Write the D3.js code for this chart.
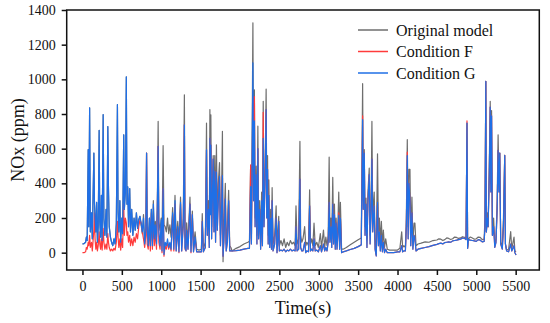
<!DOCTYPE html>
<html lang="en">
<head>
<meta charset="utf-8">
<title>NOx</title>
<script src="https://d3js.org/d3.v7.min.js"></script>
<style>
  body { margin: 0; background: #fff; }
  svg text { font-family: "Liberation Serif", "Times New Roman", serif; fill: #111; }
</style>
</head>
<body>
<svg id="chart" width="550" height="323"></svg>
<script>
// values, one column per key point
var time = [
  0,20,40,50,60,73,80,91,100,115,
  125,145,152,160,170,180,190,200,212,220,
  230,240,250,263,272,285,300,310,322,330,
  340,355,370,385,400,415,430,444,452,462,
  475,485,500,510,524,532,545,557,565,575,
  585,600,610,625,640,655,670,685,700,715,
  730,745,760,775,790,805,814,822,835,850,
  862,875,888,900,912,925,940,950,961,970,
  985,1000,1010,1024,1035,1050,1065,1080,1095,1110,
  1125,1145,1160,1175,1190,1210,1225,1245,1260,1280,
  1294,1302,1315,1323,1340,1365,1378,1395,1410,1430,
  1450,1480,1510,1521,1535,1560,1575,1585,1600,1610,
  1618,1624,1630,1640,1650,1660,1670,1680,1690,1701,
  1712,1725,1740,1752,1765,1777,1785,1795,1814,1825,
  1840,1856,1870,1885,1900,1950,2000,2050,2100,2120,
  2135,2145,2164,2172,2183,2192,2205,2215,2227,2236,
  2250,2262,2275,2285,2295,2305,2320,2332,2340,2350,
  2358,2366,2378,2390,2400,2408,2420,2440,2459,2470,
  2480,2492,2500,2520,2540,2560,2580,2600,2620,2640,
  2660,2680,2700,2711,2725,2745,2761,2770,2785,2800,
  2821,2835,2850,2870,2884,2895,2910,2925,2940,2955,
  2975,2995,3020,3035,3060,3075,3090,3105,3120,3132,
  3142,3155,3165,3178,3188,3199,3210,3220,3232,3242,
  3254,3265,3275,3290,3310,3350,3400,3450,3500,3540,
  3557,3565,3578,3588,3600,3612,3625,3641,3652,3665,
  3675,3685,3704,3715,3730,3746,3758,3770,3782,3795,
  3808,3820,3835,3850,3870,3900,3950,4000,4030,4053,
  4065,4080,4100,4112,4124,4135,4145,4158,4168,4183,
  4195,4210,4221,4235,4260,4300,4350,4400,4450,4500,
  4525,4550,4575,4600,4625,4650,4675,4700,4725,4750,
  4775,4800,4825,4850,4870,4882,4890,4900,4925,4950,
  4975,5000,5025,5050,5075,5100,5110,5121,5128,5140,
  5150,5165,5177,5185,5194,5205,5220,5235,5250,5265,
  5277,5288,5298,5310,5330,5345,5361,5370,5385,5410,
  5437,5450,5479,5490,5505
];

var originalModel = [
  50,52,60,90,70,594,150,835,120,230,
  80,575,300,200,120,290,60,150,705,180,
  90,330,70,796,200,100,250,90,728,380,
  150,90,60,40,80,50,170,854,230,120,
  300,60,200,110,680,250,350,1014,280,380,
  150,370,120,250,100,200,130,230,140,190,
  210,160,110,220,60,140,575,150,60,200,
  80,250,70,300,120,180,90,250,757,180,
  130,200,80,617,160,150,120,200,110,160,
  90,260,80,330,70,180,60,320,70,200,
  911,100,60,172,60,320,40,240,40,120,
  20,15,20,225,20,60,748,150,300,80,
  825,300,795,150,400,560,200,560,150,622,
  200,400,520,100,300,700,-52,150,400,50,
  150,360,40,30,10,25,35,50,60,65,
  500,80,1326,400,940,200,500,100,730,150,
  300,60,350,100,873,200,500,944,300,560,
  100,420,80,250,60,375,50,100,270,30,
  120,210,40,70,40,80,30,60,40,70,
  50,60,40,270,50,80,642,100,60,80,
  150,40,60,40,362,50,80,40,170,40,
  60,30,110,30,130,30,90,40,100,551,
  100,200,80,434,100,280,60,200,70,150,
  350,80,290,20,20,30,45,60,75,85,
  975,300,594,150,315,80,350,488,100,300,
  757,200,350,80,-10,570,100,200,60,180,
  40,130,30,80,20,15,15,15,25,120,
  30,40,30,200,652,150,480,480,100,320,
  60,170,170,40,50,55,62,60,70,73,
  80,78,70,75,85,82,76,80,90,88,
  82,85,92,89,80,748,30,80,90,85,
  78,80,90,88,75,78,200,988,120,230,
  150,500,873,400,820,100,200,50,80,300,
  680,400,575,60,40,200,561,50,15,20,
  121,20,90,10,5
];

var conditionF = [
  0,0,5,30,20,60,40,100,30,60,
  10,130,230,80,20,60,10,40,120,50,
  20,80,15,140,60,20,50,20,110,60,
  30,10,20,10,25,15,60,180,90,30,
  80,15,80,30,280,100,200,170,100,120,
  60,100,40,80,40,90,60,110,80,150,
  190,170,120,80,30,100,575,50,20,150,
  10,230,20,200,40,120,20,220,613,60,
  20,150,0,370,-20,40,20,60,20,50,
  10,220,10,280,10,140,0,280,10,150,
  738,20,10,130,20,280,0,220,5,80,
  5,5,5,180,5,30,594,100,250,30,
  660,220,620,80,330,540,120,470,60,465,
  130,300,440,40,230,445,-20,60,310,10,
  60,300,10,10,10,12,15,20,25,25,
  507,50,900,300,900,150,450,50,600,80,
  250,20,300,40,810,150,450,825,200,480,
  50,330,30,200,20,300,10,50,200,0,
  60,180,10,15,10,20,5,15,10,20,
  10,15,10,150,10,20,425,30,10,10,
  60,0,10,5,270,10,20,10,80,10,
  15,5,40,5,50,10,30,10,60,290,
  60,150,30,280,50,220,20,170,20,100,
  230,20,200,0,5,10,18,25,35,45,
  790,250,575,100,280,30,300,450,50,250,
  540,120,270,20,-19,290,40,120,10,100,
  5,60,0,20,0,0,0,5,5,40,
  5,10,10,150,580,80,400,300,40,230,
  20,100,80,10,20,25,30,35,42,48,
  52,55,50,58,60,62,60,68,70,72,
  75,78,85,83,75,760,25,75,72,70,
  68,65,75,72,62,65,150,988,120,200,
  150,450,840,350,790,100,150,30,60,250,
  590,350,575,50,20,150,561,50,10,5,
  50,10,40,0,-13
];

var conditionG = [
  50,52,60,90,70,594,150,835,120,230,
  80,575,300,200,120,290,60,150,705,180,
  90,330,70,796,200,100,250,90,728,380,
  150,90,60,40,80,50,170,854,230,120,
  300,60,200,110,680,250,350,1014,280,380,
  150,370,120,250,100,200,130,230,140,190,
  210,170,120,200,50,130,575,150,40,200,
  40,250,40,280,80,160,50,250,613,120,
  40,190,10,370,-10,60,40,80,30,60,
  20,230,20,300,10,150,5,290,10,160,
  738,30,10,130,20,280,5,220,5,90,
  5,5,5,180,5,30,594,100,250,30,
  660,220,620,80,330,540,120,470,60,465,
  130,300,440,40,230,445,-20,60,310,10,
  60,300,10,10,10,12,15,20,25,25,
  381,50,1095,300,760,150,450,50,600,80,
  250,20,300,40,660,150,450,825,200,480,
  50,330,30,200,20,300,10,50,200,0,
  60,180,10,15,10,20,5,15,10,20,
  10,15,10,150,10,20,425,30,10,10,
  60,0,10,5,270,10,20,10,80,10,
  15,5,40,5,50,10,30,10,60,290,
  60,150,30,280,50,220,20,170,20,100,
  215,20,200,0,5,10,18,25,35,45,
  767,250,575,100,280,30,300,450,50,250,
  540,120,270,20,-19,290,40,120,10,100,
  5,60,0,20,0,0,0,5,5,40,
  5,10,10,150,560,80,400,300,40,230,
  20,100,80,10,20,25,30,35,42,48,
  52,55,50,58,60,62,60,68,70,72,
  75,78,85,83,75,748,25,75,72,70,
  68,65,75,72,62,65,150,988,120,200,
  150,450,840,350,790,100,150,30,60,250,
  590,350,575,50,20,150,561,50,10,5,
  50,10,40,0,-13
];

var seriesNames = ["Original model", "Condition F", "Condition G"];
var seriesColors = ["#6e6e6e", "#ff3b3b", "#1f6fe6"];
var xTicks = [0,500,1000,1500,2000,2500,3000,3500,4000,4500,5000,5500];
var yTicks = [0,200,400,600,800,1000,1200,1400];

var svg = d3.select("#chart");
var plotLeft = 66.7, plotRight = 539.3, plotTop = 10, plotBottom = 270;

var x = d3.scaleLinear().domain([-200, 5800]).range([plotLeft, plotRight]);
var y = d3.scaleLinear().domain([-100, 1400]).range([plotBottom, plotTop]);

svg.append("defs").append("clipPath").attr("id", "plotclip")
  .append("rect")
  .attr("x", plotLeft).attr("y", plotTop)
  .attr("width", plotRight - plotLeft).attr("height", plotBottom - plotTop);

// lines, original first so the conditions sit on top
var allSeries = [originalModel, conditionF, conditionG];
var line = d3.line()
  .x(function(d, i) { return x(time[i]); })
  .y(function(d) { return y(d); });

var plot = svg.append("g").attr("clip-path", "url(#plotclip)");
allSeries.forEach(function(vals, k) {
  plot.append("path")
    .datum(vals)
    .attr("fill", "none")
    .attr("stroke", seriesColors[k])
    .attr("stroke-width", 1.2)
    .attr("stroke-linejoin", "round")
    .attr("d", line);
});

// axes
var xAxis = svg.append("g")
  .attr("transform", "translate(0," + plotBottom + ")")
  .call(d3.axisBottom(x).tickValues(xTicks).tickFormat(d3.format("d")).tickSize(5).tickPadding(6));
var yAxis = svg.append("g")
  .attr("transform", "translate(" + plotLeft + ",0)")
  .call(d3.axisLeft(y).tickValues(yTicks).tickFormat(d3.format("d")).tickSize(5).tickPadding(6));

[xAxis, yAxis].forEach(function(a) {
  a.select(".domain").remove();
  a.selectAll(".tick line").attr("stroke", "#111").attr("stroke-width", 1.5);
  a.selectAll(".tick text")
    .style("font-family", '"Liberation Serif", serif')
    .style("font-size", "14px")
    .attr("fill", "#111");
});

// frame
svg.append("rect")
  .attr("x", plotLeft).attr("y", plotTop)
  .attr("width", plotRight - plotLeft).attr("height", plotBottom - plotTop)
  .attr("fill", "none")
  .attr("stroke", "#111")
  .attr("stroke-width", 1.5);

// axis titles
svg.append("text")
  .attr("x", (plotLeft + plotRight) / 2)
  .attr("y", 314)
  .attr("text-anchor", "middle")
  .style("font-size", "18px")
  .text("Time(s)");

svg.append("text")
  .attr("transform", "translate(24," + ((plotTop + plotBottom) / 2) + ") rotate(-90)")
  .attr("text-anchor", "middle")
  .style("font-size", "18px")
  .text("NOx (ppm)");

// legend
var legend = svg.append("g");
seriesNames.forEach(function(name, k) {
  var ly = 30 + k * 21.5;
  legend.append("line")
    .attr("x1", 358).attr("x2", 388)
    .attr("y1", ly).attr("y2", ly)
    .attr("stroke", seriesColors[k])
    .attr("stroke-width", 1.5);
  legend.append("text")
    .attr("x", 396)
    .attr("y", ly)
    .attr("dy", "0.35em")
    .style("font-size", "16px")
    .text(name);
});
</script>
</body>
</html>
